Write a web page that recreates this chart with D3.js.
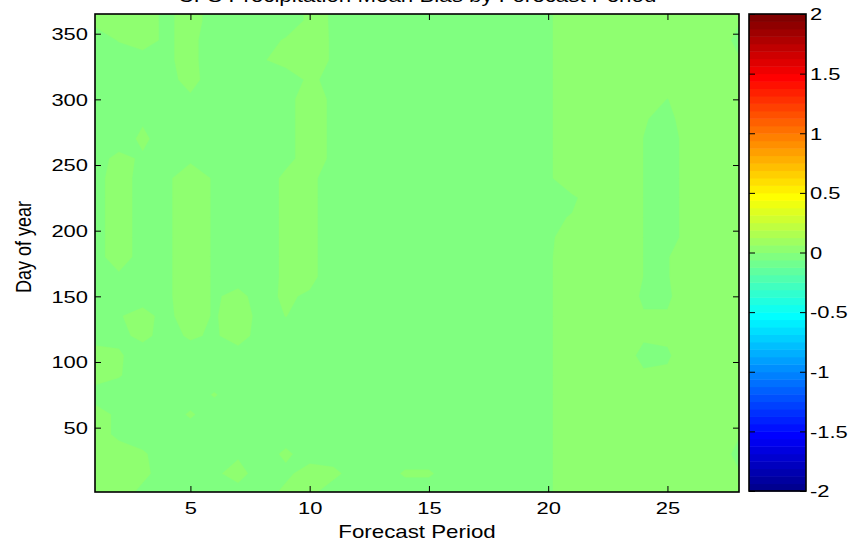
<!DOCTYPE html>
<html><head><meta charset="utf-8">
<script src="https://cdn.jsdelivr.net/npm/d3@7"></script>
<style>
body{margin:0;background:#fff}
svg{display:block}
text{font-family:"Liberation Sans",Arial,Helvetica,sans-serif;fill:#000}
</style>
</head><body>
<svg id="chart" width="857" height="546"></svg>
<script>
// ---------------- data ----------------
const titleText = "CFS Precipitation Mean Bias by Forecast Period";
const xLabel = "Forecast Period";
const yLabel = "Day of year";
const periods = [1,2,3,4,5,6,7,8,9,10,11,12,13,14,15,16,17,18,19,20,21,22,23,24,25,26,27,28];
const days = [365,360,345,330,315,300,285,270,255,240,225,210,195,180,165,150,135,120,105,90,75,60,45,30,15,1];
// mean bias (x 0.001), one row per day above (top to bottom), columns = forecast period 1..28
const bias = [
 [20,20,20,-10,20,-20,-20,-20,-30,10,-3,-20,-20,-20,-20,-20,-20,-20,-20,-10,40,40,40,40,40,40,40,40],
 [10,20,20,-10,20,-20,-20,-20,-30,10,-3,-20,-20,-20,-20,-20,-20,-20,-20,-10,40,40,40,40,40,40,40,5],
 [-20,2,20,-10,20,-40,-20,-20,5,20,-5,-20,-20,-20,-20,-20,-20,-20,-20,-10,40,40,40,40,40,40,40,-20],
 [-20,-20,-20,-10,20,-40,-20,-5,20,20,-5,-20,-20,-20,-20,-20,-20,-20,-20,-10,40,40,40,40,40,40,40,5],
 [-20,-20,-20,-20,20,-30,-20,-20,-30,10,-15,-20,-20,-20,-20,-20,-20,-20,-20,-10,40,40,40,40,40,40,40,40],
 [-20,-20,-20,-20,-10,-20,-20,-20,-10,15,-6,-20,-20,-20,-20,-20,-20,-20,-20,-10,40,40,40,40,-2,40,40,40],
 [-20,-20,-5,-20,-20,-20,-20,-20,-10,15,-6,-20,-20,-20,-20,-20,-20,-20,-20,-10,40,40,40,5,-20,40,40,40],
 [-20,-20,8,-20,-20,-20,-20,-20,-10,15,-6,-20,-20,-20,-20,-20,-20,-20,-20,-10,40,40,40,-1,-40,40,40,40],
 [-15,10,-5,-20,-10,-20,-20,-20,-10,15,-6,-20,-20,-20,-20,-20,-20,-20,-20,-10,40,40,40,-1,-40,40,40,40],
 [-15,20,-16,-10,30,-6,-20,-20,8,20,-40,-20,-20,-20,-20,-20,-20,-20,-20,-10,40,40,40,-1,-40,40,40,40],
 [-15,20,-16,-10,30,-6,-20,-20,8,20,-40,-20,-20,-20,-20,-20,-20,-20,-20,-10,-10,30,40,-1,-40,40,40,40],
 [-15,20,-16,-10,30,-6,-20,-20,8,20,-40,-20,-20,-20,-20,-20,-20,-20,-20,-10,3,40,40,-1,-40,40,40,40],
 [-15,20,-16,-10,30,-6,-20,-20,8,20,-40,-20,-20,-20,-20,-20,-20,-20,-20,-10,25,40,40,-1,-40,40,40,40],
 [-15,20,-16,-10,30,-6,-20,-20,8,20,-40,-20,-20,-20,-20,-20,-20,-20,-20,-10,40,40,40,-1,-4,40,40,40],
 [-20,-7,-20,-10,30,-6,-20,-20,8,20,-40,-20,-20,-20,-20,-20,-20,-20,-20,-10,40,40,40,-1,-4,40,40,40],
 [-20,-20,-20,-10,30,-6,13,-20,10,-10,-20,-20,-20,-20,-20,-20,-20,-20,-20,-10,40,40,40,-10,-10,40,40,40],
 [-20,-3,15,-15,30,-6,30,-20,1,-20,-20,-20,-20,-20,-20,-20,-20,-20,-20,-10,40,40,40,5,5,40,40,40],
 [-20,-10,10,-15,6,-6,20,-20,-20,-20,-20,-20,-20,-20,-20,-20,-20,-20,-20,-10,40,40,40,10,10,40,40,40],
 [20,5,-20,-20,-20,-20,-20,-20,-20,-20,-20,-20,-20,-20,-20,-20,-20,-20,-20,-10,40,40,40,-20,-8,40,40,40],
 [20,3,-20,-20,-20,-20,-20,-20,-20,-20,-20,-20,-20,-20,-20,-20,-20,-20,-20,-10,40,40,40,10,10,40,40,40],
 [-20,-20,-20,-20,-20,3,-20,-20,-20,-20,-20,-20,-20,-20,-20,-20,-20,-20,-20,-10,40,40,40,40,40,40,40,40],
 [20,-10,-20,-20,5,-20,-20,-20,-20,-20,-20,-20,-20,-20,-20,-20,-20,-20,-20,-10,40,40,40,40,40,40,40,40],
 [20,-10,-20,-20,-20,-20,-20,-20,-20,-20,-20,-20,-20,-20,-20,-20,-20,-20,-20,-10,40,40,40,40,40,40,40,5],
 [20,20,5,-20,-20,-20,-8,-20,8,-20,-20,-20,-20,-20,-20,-20,-20,-20,-20,-10,40,40,40,40,40,40,40,-20],
 [20,20,10,-20,-20,-10,20,-29,-10,20,10,-20,-20,5,5,-20,-20,-20,-20,-10,40,40,40,40,40,40,40,5],
 [20,20,-10,-20,-20,-20,-20,-20,10,10,-20,-20,-20,-20,-20,-20,-20,-20,-20,-10,40,40,40,40,40,40,40,40]
];
const xTicks = [5,10,15,20,25];
const yTicks = [50,100,150,200,250,300,350];
const cbTicks = [-2,-1.5,-1,-0.5,0,0.5,1,1.5,2];
const cbTickLabels = ["-2","-1.5","-1","-0.5","0","0.5","1","1.5","2"];
const cLimits = [-2,2];
const nColors = 64;

// ---------------- layout ----------------
const plot = {left:95, right:739, top:14, bottom:492};
const cbar = {left:749, right:806, top:14, bottom:491};
const SX = 1.33;          // horizontal text stretch of the picture
const FS = 16.5;

// MATLAB jet colormap
function jet(m){
  const n = Math.ceil(m/4), u = [];
  for(let i=1;i<=n;i++) u.push(i/n);
  for(let i=1;i<n;i++) u.push(1);
  for(let i=n;i>=1;i--) u.push(i/n);
  const g0 = Math.ceil(n/2) - (m%4===1?1:0);
  const J = Array.from({length:m},()=>[0,0,0]);
  u.forEach((v,k)=>{
    const g=g0+k+1, r=g+n, b=g-n;
    if(r>=1&&r<=m) J[r-1][0]=v;
    if(g>=1&&g<=m) J[g-1][1]=v;
    if(b>=1&&b<=m) J[b-1][2]=v;
  });
  return J.map(c=>d3.rgb(Math.round(c[0]*255),Math.round(c[1]*255),Math.round(c[2]*255)).formatHex());
}
const cmap = jet(nColors);
const step = (cLimits[1]-cLimits[0])/nColors;
const edges = d3.range(nColors).map(k=>cLimits[0]+k*step);

const svg = d3.select("#chart");
const x = d3.scaleLinear().domain([periods[0], periods[periods.length-1]]).range([plot.left, plot.right]);
const y = d3.scaleLinear().domain([1,365]).range([plot.bottom, plot.top]);
const cb = d3.scaleLinear().domain(cLimits).range([cbar.bottom, cbar.top]);

// ---------------- contour fill ----------------
const nx = periods.length, ny = days.length;
const flat = bias.flat().map(v=>v/1000);
const idxToPeriod = d3.scaleLinear().domain(d3.range(nx)).range(periods);
const idxToDay = d3.scaleLinear().domain(d3.range(ny)).range(days);
const clamp = (v,a,b)=>Math.max(a,Math.min(b,v));
const proj = d3.geoTransform({point(px,py){
  const i = clamp(px-0.5,0,nx-1), j = clamp(py-0.5,0,ny-1);
  this.stream.point(x(idxToPeriod(i)), y(idxToDay(j)));
}});
const path = d3.geoPath(proj);
const minV = d3.min(flat);
const startK = Math.max(0, Math.floor((minV-cLimits[0])/step));
const thresholds = edges.slice(startK);
const contours = d3.contours().size([nx,ny]).smooth(true).thresholds(thresholds)(flat);

svg.append("clipPath").attr("id","pc").append("rect")
  .attr("x",plot.left).attr("y",plot.top).attr("width",plot.right-plot.left).attr("height",plot.bottom-plot.top);
const cg = svg.append("g").attr("clip-path","url(#pc)");
cg.append("rect").attr("x",plot.left).attr("y",plot.top).attr("width",plot.right-plot.left).attr("height",plot.bottom-plot.top)
  .attr("fill",cmap[startK]);
cg.selectAll("path.band").data(contours.filter(c=>c.coordinates.length)).join("path")
  .attr("class","band").attr("d",path)
  .attr("fill",d=>cmap[clamp(Math.round((d.value-cLimits[0])/step),0,nColors-1)])
  .attr("stroke",d=>cmap[clamp(Math.round((d.value-cLimits[0])/step),0,nColors-1)])
  .attr("stroke-width",0.3);

// ---------------- axes ----------------
const TL = 6;
function styleAxis(g){ g.select(".domain").remove(); g.selectAll(".tick line").attr("stroke","#000"); }
const gx = svg.append("g").attr("transform",`translate(0,${plot.bottom})`)
  .call(d3.axisBottom(x).tickValues(xTicks).tickSize(-TL).tickPadding(0).tickFormat(d3.format("d")));
styleAxis(gx);
gx.selectAll(".tick text").attr("font-size",FS).attr("y",0).attr("dy",null)
  .attr("transform",`translate(0,22) scale(${SX},1)`);
const gxt = svg.append("g").attr("transform",`translate(0,${plot.top})`)
  .call(d3.axisTop(x).tickValues(xTicks).tickSize(-TL).tickFormat(""));
styleAxis(gxt);
const gy = svg.append("g").attr("transform",`translate(${plot.left},0)`)
  .call(d3.axisLeft(y).tickValues(yTicks).tickSize(-TL).tickPadding(0).tickFormat(d3.format("d")));
styleAxis(gy);
gy.selectAll(".tick text").attr("font-size",FS).attr("x",0).attr("dy","0.35em")
  .attr("transform",`translate(-7,0) scale(${SX},1)`);
const gyr = svg.append("g").attr("transform",`translate(${plot.right},0)`)
  .call(d3.axisRight(y).tickValues(yTicks).tickSize(-TL).tickFormat(""));
styleAxis(gyr);

svg.append("rect").attr("x",plot.left).attr("y",plot.top).attr("width",plot.right-plot.left).attr("height",plot.bottom-plot.top)
  .attr("fill","none").attr("stroke","#000").attr("stroke-width",1.6);

// labels
svg.append("text").attr("text-anchor","middle").attr("font-size",18)
  .attr("transform",`translate(${(plot.left+plot.right)/2},538) scale(1.24,1)`).text(xLabel);
svg.append("text").attr("text-anchor","middle").attr("font-size",18)
  .attr("transform",`translate(31,247) rotate(-90) scale(1,1.2)`).text(yLabel);
svg.append("text").attr("text-anchor","middle").attr("font-size",18)
  .attr("transform",`translate(${(plot.left+plot.right)/2},1.5) scale(1.24,1)`).text(titleText);

// ---------------- colorbar ----------------
const cbg = svg.append("g");
cbg.selectAll("rect.cb").data(cmap).join("rect").attr("class","cb")
  .attr("x",cbar.left).attr("width",cbar.right-cbar.left)
  .attr("y",(c,k)=>cb(cLimits[0]+(k+1)*step)).attr("height",(c,k)=>cb(cLimits[0]+k*step)-cb(cLimits[0]+(k+1)*step)+0.5)
  .attr("fill",c=>c);
const gcl = svg.append("g").attr("transform",`translate(${cbar.left},0)`)
  .call(d3.axisLeft(cb).tickValues(cbTicks).tickSize(-TL).tickFormat(""));
styleAxis(gcl);
const gcr = svg.append("g").attr("transform",`translate(${cbar.right},0)`)
  .call(d3.axisRight(cb).tickValues(cbTicks).tickSize(-TL).tickPadding(0).tickFormat((d,i)=>cbTickLabels[i]));
styleAxis(gcr);
gcr.selectAll(".tick text").attr("font-size",FS).attr("x",0).attr("dy","0.35em")
  .attr("transform",`translate(4,0) scale(${SX},1)`);
svg.append("rect").attr("x",cbar.left).attr("y",cbar.top).attr("width",cbar.right-cbar.left).attr("height",cbar.bottom-cbar.top)
  .attr("fill","none").attr("stroke","#000").attr("stroke-width",1.6);
</script>
</body></html>
